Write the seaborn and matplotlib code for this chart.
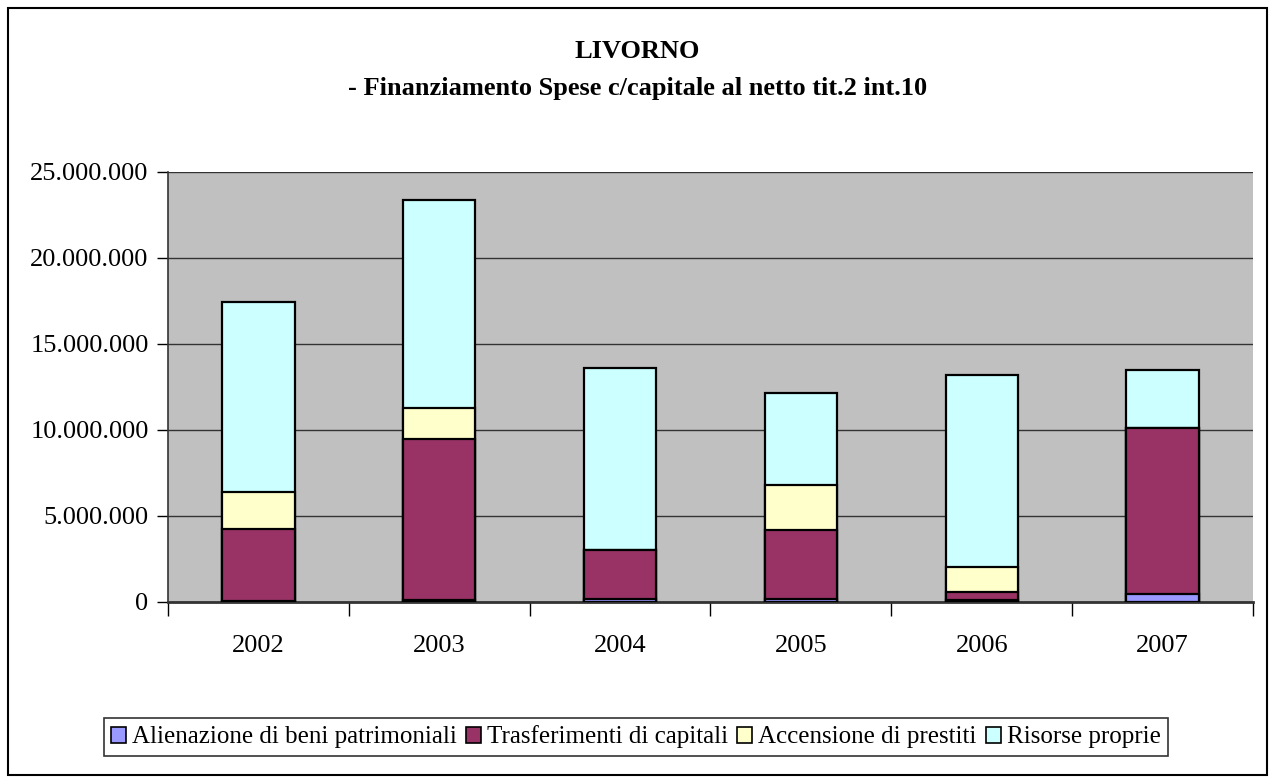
import matplotlib
matplotlib.use("Agg")
import matplotlib.pyplot as plt
from matplotlib.patches import Patch, Rectangle
from matplotlib.ticker import FuncFormatter
import seaborn as sns
import pandas as pd
import numpy as np

years = ["2002", "2003", "2004", "2005", "2006", "2007"]
series_names = ["Alienazione di beni patrimoniali", "Trasferimenti di capitali",
                "Accensione di prestiti", "Risorse proprie"]
alienazione = [30000, 120000, 200000, 200000, 120000, 450000]
trasferimenti = [4240000, 9360000, 2800000, 3980000, 480000, 9650000]
accensione = [2140000, 1800000, 0, 2630000, 1460000, 0]
risorse = [11030000, 12070000, 10610000, 5330000, 11140000, 3410000]
colors = ["#9999FF", "#993366", "#FFFFCC", "#CCFFFF"]

sns.set_theme(style="white")
plt.rcParams["font.family"] = ["Liberation Serif", "DejaVu Serif"]
plt.rcParams["text.color"] = "black"
plt.rcParams["xtick.color"] = "black"
plt.rcParams["ytick.color"] = "black"

values = [alienazione, trasferimenti, accensione, risorse]
cum = np.cumsum(np.array(values, dtype=float), axis=0)
df = pd.DataFrame({"year": years})
for name, c in zip(series_names, cum):
    df[name] = c

fig = plt.figure(figsize=(12.75, 7.83), dpi=100)
ax = fig.add_axes([168/1275, 1-602/783, (1253-168)/1275, (602-172)/783])
ax.set_facecolor("#C0C0C0")
ax.set_axisbelow(True)

# draw from total down so each layer overlays the one above
for name, col in reversed(list(zip(series_names, colors))):
    sns.barplot(data=df, x="year", y=name, order=years, color=col,
                edgecolor="black", linewidth=1.6, width=0.4, ax=ax,
                saturation=1, errorbar=None, zorder=3)

ax.set_ylim(0, 25000000)
ax.set_xlim(-0.5, 5.5)
ax.set_yticks(np.arange(0, 25000001, 5000000))
ax.yaxis.set_major_formatter(FuncFormatter(lambda v, p: f"{int(v):,}".replace(",", ".")))
ax.yaxis.grid(True, color="#333333", linewidth=1.0)
ax.xaxis.grid(False)
ax.set_xlabel("")
ax.set_ylabel("")

ax.set_xticks(np.arange(-0.5, 6.0, 1.0), minor=False)
ax.set_xticklabels([])
ax.set_xticks(np.arange(6), minor=True)
ax.set_xticklabels(years, minor=True)
ax.tick_params(axis="x", which="major", direction="out", length=10, width=1, color="black", bottom=True)
ax.tick_params(axis="x", which="minor", length=0, labelsize=19, pad=24, labelcolor="black")
ax.tick_params(axis="y", direction="out", length=8, width=1, color="black", labelsize=19, pad=6,
               left=True, labelcolor="black")

for s in ["top", "right"]:
    ax.spines[s].set_visible(False)
ax.spines["left"].set_color("#333333")
ax.spines["bottom"].set_color("#333333")
ax.spines["left"].set_linewidth(1.2)
ax.spines["bottom"].set_linewidth(2)

fig.text(0.5, 1-52/783, "LIVORNO", ha="center", va="center", fontsize=19,
         fontweight="bold", color="black")
fig.text(0.5, 1-89/783, "- Finanziamento Spese c/capitale al netto tit.2 int.10",
         ha="center", va="center", fontsize=19, fontweight="bold", color="black")

handles = [Patch(facecolor=c, edgecolor="black", linewidth=1.2) for c in colors]
leg = fig.legend(handles, series_names, loc="center", bbox_to_anchor=(636/1275, 1-737/783),
                 ncol=4, fontsize=18, frameon=True, fancybox=False, handlelength=0.6,
                 handleheight=0.6, handletextpad=0.25, columnspacing=0.35, borderpad=0.3,
                 borderaxespad=0)
leg.get_frame().set_edgecolor("black")
leg.get_frame().set_linewidth(1.2)
for t in leg.get_texts():
    t.set_color("black")

fig.patches.append(Rectangle((8/1275, 8/783), 1-16/1275, 1-16/783, transform=fig.transFigure,
                             fill=False, edgecolor="black", linewidth=1.5))

fig.savefig("out.png", dpi=100, facecolor="white")
